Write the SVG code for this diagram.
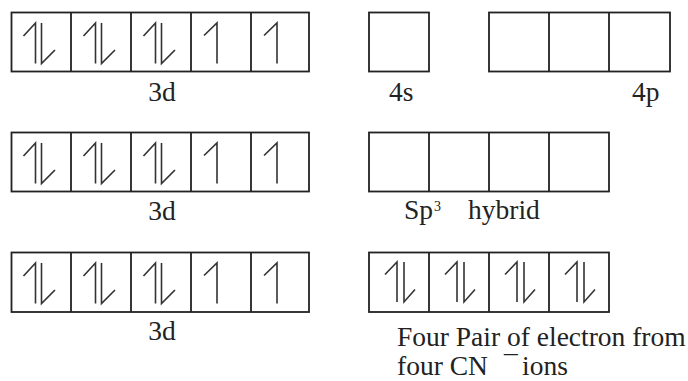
<svg xmlns="http://www.w3.org/2000/svg" xmlns:xlink="http://www.w3.org/1999/xlink" width="688" height="381" viewBox="0 0 688 381">
<style>
.box{fill:none;stroke:#222;stroke-width:1.8}
.e{fill:none;stroke:#333;stroke-width:1.6;stroke-linejoin:miter}
.t{font-size:27.5px;fill:#222}
.sup{font-size:14px}
</style>
<defs>
<path id="pair" class="e" d="M24.5,51 V10.5 L12.5,23.5 M30.5,10.5 V51 L44,37.5"/>
<path id="up" class="e" d="M26,51 V10.5 L13,23"/>
<path id="pair2" class="e" d="M28,49.5 V9.5 L16,22 M35,9.5 V49.5 L46,37"/>
</defs>
<rect width="688" height="381" fill="#fff"/>
<g id="connectors"/>
<g font-family="'Liberation Serif', 'Times New Roman', serif">

<g id="row1-3d">
<rect class="box" x="11.5" y="12.5" width="297.5" height="59"/>
<path class="box" d="M71,12.5 V71.5 M131,12.5 V71.5 M191,12.5 V71.5 M251,12.5 V71.5"/>
<use xlink:href="#pair" x="11" y="12.5"/>
<use xlink:href="#pair" x="71" y="12.5"/>
<use xlink:href="#pair" x="131" y="12.5"/>
<use xlink:href="#up" x="191" y="12.5"/>
<use xlink:href="#up" x="251" y="12.5"/>
<text class="t" x="162" y="101" text-anchor="middle">3d</text>
</g>

<g id="row1-4s">
<rect class="box" x="369" y="12.5" width="60" height="59"/>
<text class="t" x="389" y="101">4s</text>
</g>

<g id="row1-4p">
<rect class="box" x="489" y="12.5" width="181" height="59"/>
<path class="box" d="M549,12.5 V71.5 M609,12.5 V71.5"/>
<text class="t" x="632" y="101">4p</text>
</g>

<g id="row2-3d">
<rect class="box" x="11.5" y="132.5" width="297.5" height="59"/>
<path class="box" d="M71,132.5 V191.5 M131,132.5 V191.5 M191,132.5 V191.5 M251,132.5 V191.5"/>
<use xlink:href="#pair" x="11" y="132.5"/>
<use xlink:href="#pair" x="71" y="132.5"/>
<use xlink:href="#pair" x="131" y="132.5"/>
<use xlink:href="#up" x="191" y="132.5"/>
<use xlink:href="#up" x="251" y="132.5"/>
<text class="t" x="162" y="220" text-anchor="middle">3d</text>
</g>

<g id="row2-sp3">
<rect class="box" x="369" y="132.5" width="240" height="59"/>
<path class="box" d="M429,132.5 V191.5 M489,132.5 V191.5 M549,132.5 V191.5"/>
<text class="t" x="404" y="219">Sp<tspan class="sup" x="434" y="211">3</tspan><tspan x="468" y="219">hybrid</tspan></text>
</g>

<g id="row3-3d">
<rect class="box" x="11.5" y="252.5" width="297.5" height="59.5"/>
<path class="box" d="M71,252.5 V312 M131,252.5 V312 M191,252.5 V312 M251,252.5 V312"/>
<use xlink:href="#pair" x="11" y="252.5"/>
<use xlink:href="#pair" x="71" y="252.5"/>
<use xlink:href="#pair" x="131" y="252.5"/>
<use xlink:href="#up" x="191" y="252.5"/>
<use xlink:href="#up" x="251" y="252.5"/>
<text class="t" x="162" y="340" text-anchor="middle">3d</text>
</g>

<g id="row3-ligand">
<rect class="box" x="369" y="252.5" width="240" height="59.5"/>
<path class="box" d="M429,252.5 V312 M489,252.5 V312 M549,252.5 V312"/>
<use xlink:href="#pair2" x="369" y="252.5"/>
<use xlink:href="#pair2" x="429" y="252.5"/>
<use xlink:href="#pair2" x="489" y="252.5"/>
<use xlink:href="#pair2" x="549" y="252.5"/>
<text class="t" x="397" y="346">Four Pair of electron from</text>
<text class="t" x="397" y="375">four CN<tspan x="504">¯</tspan><tspan x="522">ions</tspan></text>
</g>
</g>
</svg>
